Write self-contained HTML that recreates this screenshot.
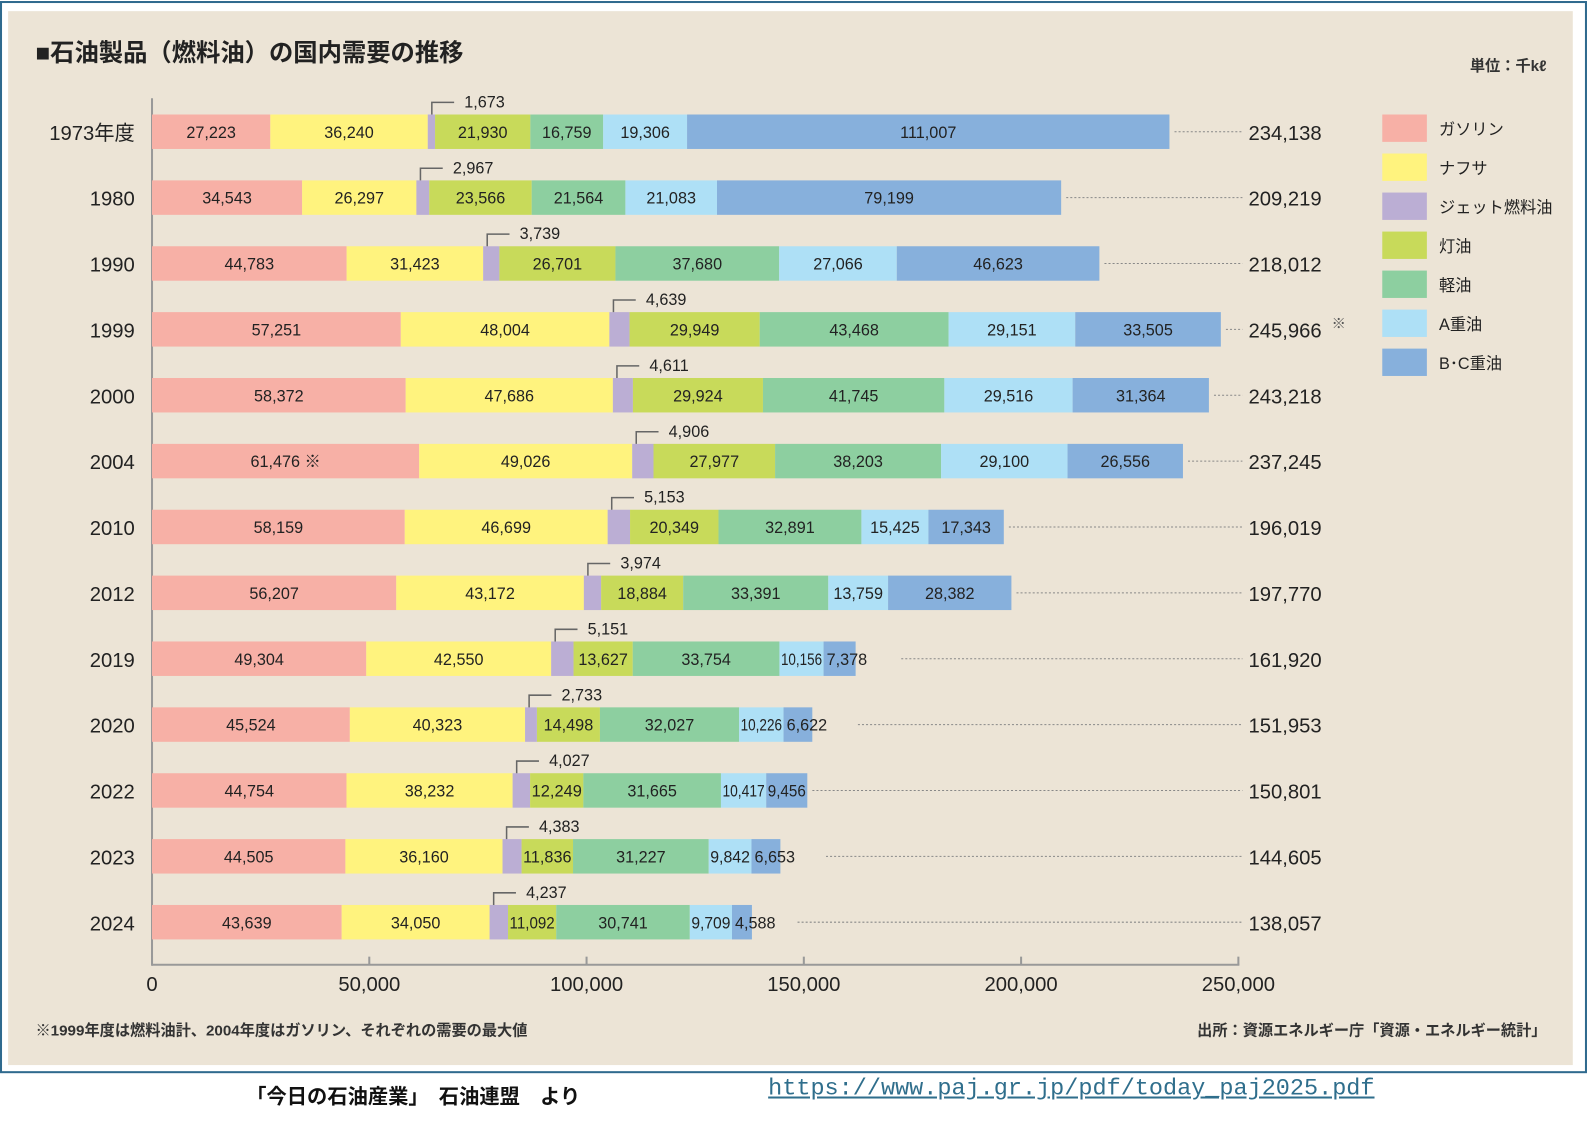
<!DOCTYPE html>
<html><head><meta charset="utf-8">
<style>
html,body{margin:0;padding:0;background:#fff;}
body{width:1589px;height:1125px;position:relative;overflow:hidden;font-family:"Liberation Sans","Noto Sans CJK JP",sans-serif;}
#wrap{position:absolute;left:0;top:0;width:1568px;height:1110px;transform:scale(1.0134);transform-origin:0 0;}
#frame{position:absolute;left:0px;top:1px;width:1566px;height:1058px;border:2px solid #2f6a8e;box-sizing:border-box;background:#fff;}
#bg{position:absolute;left:8px;top:11px;width:1544px;height:1040px;background:#ECE4D6;}
svg{position:absolute;left:0;top:0;}
.bot{position:absolute;top:1066px;font-size:20px;font-weight:bold;color:#111;}
.url{position:absolute;left:758px;top:1061px;font-family:"Liberation Mono",monospace;font-size:23.2px;color:#2f6e8c;text-decoration:underline;}
</style></head><body>
<div id="wrap">
<div id="frame"></div><div id="bg"></div>
<svg id="c" width="1568" height="1110" xmlns="http://www.w3.org/2000/svg"></svg>
<div class="bot" style="left:243px">「今日の石油産業」　石油連盟　より</div>
<div class="url">https://www.paj.gr.jp/pdf/today_paj2025.pdf</div>
</div>
<script>
const cols=["#F7B0A6","#FFF37E","#BBAED4","#C8DA5A","#8DCFA0","#AEE0F6","#87B0DC"];
const names=["ガソリン","ナフサ","ジェット燃料油","灯油","軽油","A重油","B･C重油"];
const rows=[
["1973年度",[27223,36240,1673,21930,16759,19306,111007],"234,138"],
["1980",[34543,26297,2967,23566,21564,21083,79199],"209,219"],
["1990",[44783,31423,3739,26701,37680,27066,46623],"218,012"],
["1999",[57251,48004,4639,29949,43468,29151,33505],"245,966"],
["2000",[58372,47686,4611,29924,41745,29516,31364],"243,218"],
["2004",[61476,49026,4906,27977,38203,29100,26556],"237,245"],
["2010",[58159,46699,5153,20349,32891,15425,17343],"196,019"],
["2012",[56207,43172,3974,18884,33391,13759,28382],"197,770"],
["2019",[49304,42550,5151,13627,33754,10156,7378],"161,920"],
["2020",[45524,40323,2733,14498,32027,10226,6622],"151,953"],
["2022",[44754,38232,4027,12249,31665,10417,9456],"150,801"],
["2023",[44505,36160,4383,11836,31227,9842,6653],"144,605"],
["2024",[43639,34050,4237,11092,30741,9709,4588],"138,057"]];
const X=v=>150+v*1072/250000;
let s="";
const fmt=n=>n.toLocaleString("en-US");
s+=`<text x="35" y="60" font-size="24" font-weight="bold" fill="#222">■石油製品（燃料油）の国内需要の推移</text>`;
s+=`<text x="1526" y="70" font-size="15" font-weight="bold" fill="#333" text-anchor="end">単位：千kℓ</text>`;
s+=`<line x1="150" y1="97" x2="150" y2="953" stroke="#999" stroke-width="2"/>`;
s+=`<line x1="150" y1="952" x2="1223" y2="952" stroke="#999" stroke-width="2"/>`;
for(let i=0;i<=5;i++){const x=X(i*50000);s+=`<line x1="${x}" y1="944" x2="${x}" y2="952" stroke="#999" stroke-width="2"/><text x="${x}" y="978" font-size="20" fill="#222" text-anchor="middle">${i==0?"0":fmt(i*50000)}</text>`;}
rows.forEach((r,i)=>{
 const cy=130+i*65,top=cy-17;
 s+=`<text x="133" y="${cy+8}" font-size="20" fill="#222" text-anchor="end">${r[0]}</text>`;
 let acc=0;
 r[1].forEach((v,k)=>{
  const x0=X(acc),x1=X(acc+v);acc+=v;
  s+=`<rect x="${x0}" y="${top}" width="${x1-x0}" height="34" fill="${cols[k]}"/>`;
  if(k==2){
   s+=`<polyline points="${x0+4},${top} ${x0+4},${top-12} ${x0+26},${top-12}" fill="none" stroke="#666" stroke-width="1.5"/>`;
   s+=`<text x="${x0+36}" y="${top-7}" font-size="16" fill="#222">${fmt(v)}</text>`;
  } else {
   let t=fmt(v)+(i==5&&k==0?" ※":"");
   const w=x1-x0,est=t.length*8.2;
   if(k==6&&w<36){s+=`<text x="${x0+3}" y="${cy+6}" font-size="16" fill="#222">${t}</text>`;}
   else if(est>w-4){s+=`<text x="${(x0+x1)/2}" y="${cy+6}" font-size="16" fill="#222" text-anchor="middle" textLength="${w-3}" lengthAdjust="spacingAndGlyphs">${t}</text>`;}
   else s+=`<text x="${(x0+x1)/2}" y="${cy+6}" font-size="16" fill="#222" text-anchor="middle">${t}</text>`;
  }
 });
 const end=X(acc);
 let ds=end+(r[1][6]<8000?45:5);
 s+=`<line x1="${ds}" y1="${cy}" x2="1226" y2="${cy}" stroke="#888" stroke-width="1" stroke-dasharray="2,2"/>`;
 s+=`<text x="1232" y="${cy+8}" font-size="20" fill="#222">${r[2]}</text>`;
 if(i==3)s+=`<text x="1314" y="${cy-1}" font-size="14" fill="#555">※</text>`;
});
names.forEach((n,k)=>{const y=113+k*38.5;s+=`<rect x="1364" y="${y}" width="44" height="27" fill="${cols[k]}"/><text x="1420" y="${y+20}" font-size="16" fill="#222">${n}</text>`;});
s+=`<text x="35" y="1022" font-size="15" font-weight="bold" fill="#333">※1999年度は燃料油計、2004年度はガソリン、それぞれの需要の最大値</text>`;
s+=`<text x="1526" y="1022" font-size="15" font-weight="bold" fill="#333" text-anchor="end">出所：資源エネルギー庁「資源・エネルギー統計」</text>`;
document.getElementById("c").innerHTML=s;
</script>
</body></html>
